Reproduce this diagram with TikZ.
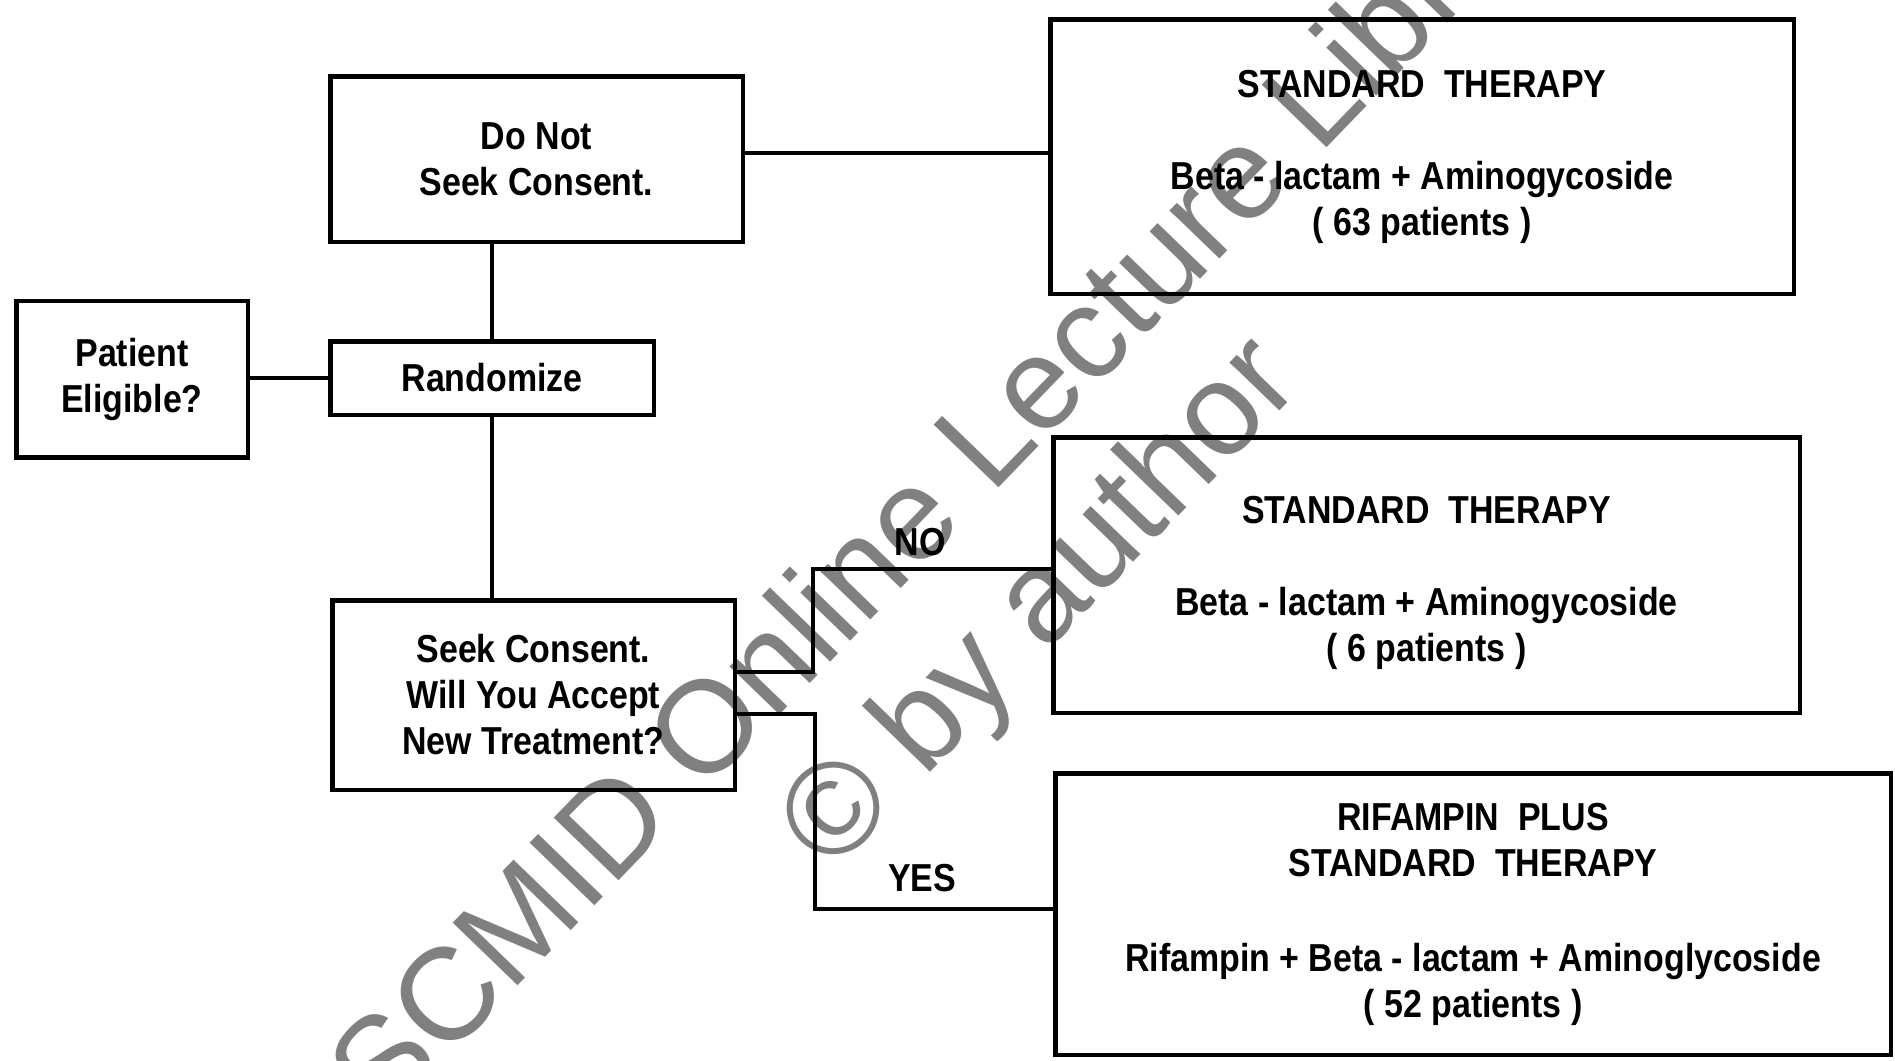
\documentclass[tikz,border=0pt]{standalone}
\usepackage{fontspec}
\newfontfamily\lab{Liberation Sans}[FakeStretch=0.87]
\newfontfamily\wmfont{Liberation Sans}
\definecolor{wmgray}{HTML}{808080}
\tikzset{
  box/.style={draw=black, line width=4.5pt, inner sep=0pt, align=center,
    font=\lab\bfseries\fontsize{39}{46}\selectfont},
  conn/.style={draw=black, line width=3.5pt},
  lbl/.style={inner sep=0pt, font=\lab\bfseries\fontsize{39}{46}\selectfont},
  wm/.style={text=wmgray, inner sep=0pt, font=\wmfont\fontsize{131}{151}\selectfont,
    rotate=46, anchor=base},
}
\begin{document}
\begin{tikzpicture}[x=1pt,y=-1pt]
\clip (0,0) rectangle (1895,1060);
\fill[white] (0,0) rectangle (1895,1060);

% watermark (underneath the diagram)
\node[wm] (wm1) at (961,527) {ESCMID Online Lecture Library};
\node[wm] (wm2) at (1068,630) {\char"00A9{} by author};

% boxes
\node[box, minimum width=231.5pt, minimum height=156.5pt] (pe) at (132,379) {Patient\\Eligible?};
\node[box, minimum width=412.5pt, minimum height=165.5pt] (dn) at (536.5,159) {Do Not\\Seek Consent.};
\node[box, minimum width=323.5pt, minimum height=73.5pt] (rz) at (492,378) {Randomize};
\node[box, minimum width=402.5pt, minimum height=189.5pt] (sc) at (533.5,695) {Seek Consent.\\Will You Accept\\New Treatment?};
\node[box, minimum width=743.5pt, minimum height=274.5pt] (st1) at (1422,156.5)
  {STANDARD\ \ THERAPY\\[46pt]Beta - lactam + Aminogycoside\\( 63 patients )};
\node[box, minimum width=746.5pt, minimum height=275.5pt] (st2) at (1426.5,575)
  {\rule{0pt}{44pt}STANDARD\ \ THERAPY\\[46pt]Beta - lactam + Aminogycoside\\( 6 patients )};
\node[box, minimum width=835.5pt, minimum height=281.5pt] (rf) at (1473,914)
  {RIFAMPIN\ \ PLUS\\STANDARD\ \ THERAPY\\[49pt]Rifampin + Beta - lactam + Aminoglycoside\\( 52 patients )};

% connectors
\coordinate (l1) at (800,153);
\draw[conn] (dn.east |- l1) -- (st1.west |- l1);
\draw[conn] (rz.north) -- (rz.north |- dn.south);
\draw[conn] (pe.east |- rz.west) -- (rz.west);
\draw[conn] (rz.south) -- (rz.south |- sc.north);

\coordinate (nob1) at (813,672);
\coordinate (nob2) at (813,569);
\draw[conn] (sc.east |- nob1) -- (nob1) -- (nob2) -- (st2.west |- nob2);
\coordinate (yesb1) at (815,714);
\coordinate (yesb2) at (815,909);
\draw[conn] (sc.east |- yesb1) -- (yesb1) -- (yesb2) -- (rf.west |- yesb2);

\node[lbl] (no) at (920,542) {NO};
\node[lbl] (yes) at (922,878) {YES};
\end{tikzpicture}
\end{document}
